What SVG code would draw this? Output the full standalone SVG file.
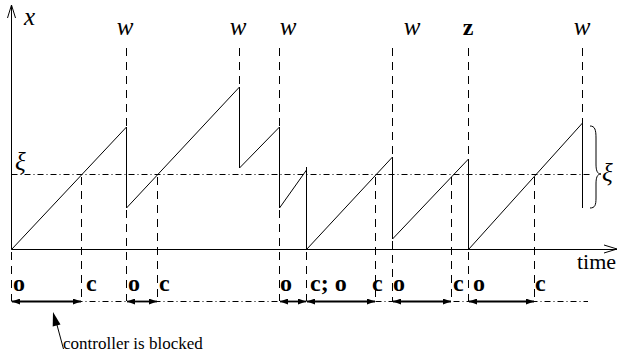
<svg xmlns="http://www.w3.org/2000/svg" width="619" height="359" viewBox="0 0 619 359">
  <defs>
    <style>
      .ln { stroke: #000; stroke-width: 1; fill: none; }
      .dash { stroke: #000; stroke-width: 1; fill: none; stroke-dasharray: 8 6; }
      .dd { stroke: #000; stroke-width: 1; fill: none; stroke-dasharray: 6 3 1 3; }
      .span { stroke: #000; stroke-width: 1.8; fill: none; marker-start: url(#hs); marker-end: url(#he); }
      text { font-family: "Times New Roman", "Liberation Serif", Tinos, "DejaVu Serif", serif; fill: #000; }
      .math { font-style: italic; font-size: 25px; }
      .bold { font-weight: bold; font-size: 24px; }
      .rm { font-size: 17px; }
    </style>
    <marker id="he" viewBox="0 0 8 6" refX="8" refY="3" markerWidth="8" markerHeight="6" markerUnits="userSpaceOnUse" orient="auto">
      <path d="M0,0 L8,3 L0,6 Z" fill="#000"/>
    </marker>
    <marker id="hs" viewBox="0 0 8 6" refX="0" refY="3" markerWidth="8" markerHeight="6" markerUnits="userSpaceOnUse" orient="auto">
      <path d="M8,0 L0,3 L8,6 Z" fill="#000"/>
    </marker>
  </defs>
  <rect width="619" height="359" fill="#fff"/>

  <!-- axes -->
  <g id="axes">
    <line class="ln" x1="11.5" y1="249.5" x2="11.5" y2="5"/>
    <path class="ln" d="M7.5,18 L11.5,5 L15.5,18"/>
    <line class="ln" x1="11.5" y1="249.5" x2="617" y2="249.5"/>
    <path class="ln" d="M604,245 L617,249 L604,253"/>
    <text class="math" x="24" y="25">x</text>
    <text x="577" y="269" font-size="22">time</text>
  </g>

  <!-- threshold level -->
  <g id="threshold">
    <line class="dd" x1="11.5" y1="174.5" x2="590" y2="174.5"/>
    <text class="math" x="15" y="170" font-size="22">ξ</text>
  </g>

  <!-- event markers above the plot -->
  <g id="events">
    <line class="dash" x1="126.5" y1="48" x2="126.5" y2="127"/>
    <line class="dash" x1="239.5" y1="48" x2="239.5" y2="87"/>
    <line class="dash" x1="279.5" y1="48" x2="279.5" y2="127"/>
    <line class="dash" x1="392.5" y1="48" x2="392.5" y2="157"/>
    <line class="dash" x1="468.5" y1="48" x2="468.5" y2="159"/>
    <line class="dash" x1="582.5" y1="48" x2="582.5" y2="123"/>
    <text class="math" x="125" y="35" text-anchor="middle">w</text>
    <text class="math" x="238" y="35" text-anchor="middle">w</text>
    <text class="math" x="288" y="35" text-anchor="middle">w</text>
    <text class="math" x="412" y="35" text-anchor="middle">w</text>
    <text class="bold" x="468" y="35" text-anchor="middle">z</text>
    <text class="math" x="582" y="35" text-anchor="middle">w</text>
  </g>

  <!-- state trajectory -->
  <g id="trajectory">
    <path class="ln" d="M11.5,249.5 L126.5,127 L126.5,208 L239.5,87 L239.5,168 L279.5,127 L279.5,208 L306.5,170 M306.5,167 L306.5,249.5 L392.5,157 L392.5,239 L468.5,159 L468.5,249.5 L582.5,123 L582.5,208"/>
  </g>

  <!-- brace on the last jump -->
  <g id="brace">
    <path class="ln" d="M590,126 C595,126 596,130 596,138 L596,164 C596,170 597,174 601,174 C597,174 596,178 596,184 L596,198 C596,205 595,208 590,208"/>
    <text class="math" x="602" y="181" font-size="26">ξ</text>
  </g>

  <!-- drop lines to the timeline -->
  <g id="drops">
    <line class="dash" x1="11.5" y1="252" x2="11.5" y2="301"/>
    <line class="dash" x1="81.5" y1="177" x2="81.5" y2="301"/>
    <line class="dash" x1="126.5" y1="210" x2="126.5" y2="301"/>
    <line class="dash" x1="157.5" y1="177" x2="157.5" y2="301"/>
    <line class="dash" x1="279.5" y1="210" x2="279.5" y2="301"/>
    <line class="dash" x1="306.5" y1="252" x2="306.5" y2="301"/>
    <line class="dash" x1="375.5" y1="177" x2="375.5" y2="301"/>
    <line class="dash" x1="392.5" y1="241" x2="392.5" y2="301"/>
    <line class="dash" x1="451.5" y1="177" x2="451.5" y2="301"/>
    <line class="dash" x1="468.5" y1="252" x2="468.5" y2="301"/>
    <line class="dash" x1="534.5" y1="177" x2="534.5" y2="301"/>
  </g>

  <!-- open/close timeline -->
  <g id="timeline">
    <line class="dd" x1="11.5" y1="301.5" x2="588" y2="301.5"/>
    <line class="span" x1="12" y1="301.5" x2="81" y2="301.5"/>
    <line class="span" x1="127" y1="301.5" x2="157" y2="301.5"/>
    <line class="span" x1="280" y1="301.5" x2="306" y2="301.5"/>
    <line class="span" x1="307" y1="301.5" x2="375" y2="301.5"/>
    <line class="span" x1="393" y1="301.5" x2="451" y2="301.5"/>
    <line class="span" x1="469" y1="301.5" x2="534" y2="301.5"/>
    <text class="bold" x="13" y="291">o</text>
    <text class="bold" x="86" y="291">c</text>
    <text class="bold" x="128" y="291">o</text>
    <text class="bold" x="159" y="291">c</text>
    <text class="bold" x="280" y="291">o</text>
    <text class="bold" x="310" y="291">c; o</text>
    <text class="bold" x="372" y="291">c</text>
    <text class="bold" x="393" y="291">o</text>
    <text class="bold" x="453" y="291">c</text>
    <text class="bold" x="473" y="291">o</text>
    <text class="bold" x="535" y="291">c</text>
  </g>

  <!-- annotation -->
  <g id="note">
    <line class="ln" x1="63.5" y1="349" x2="57" y2="325"/>
    <polygon points="53,312 60.5,324.5 52.7,326.5" fill="#000"/>
    <text class="rm" x="63" y="349">controller is blocked</text>
  </g>
</svg>
